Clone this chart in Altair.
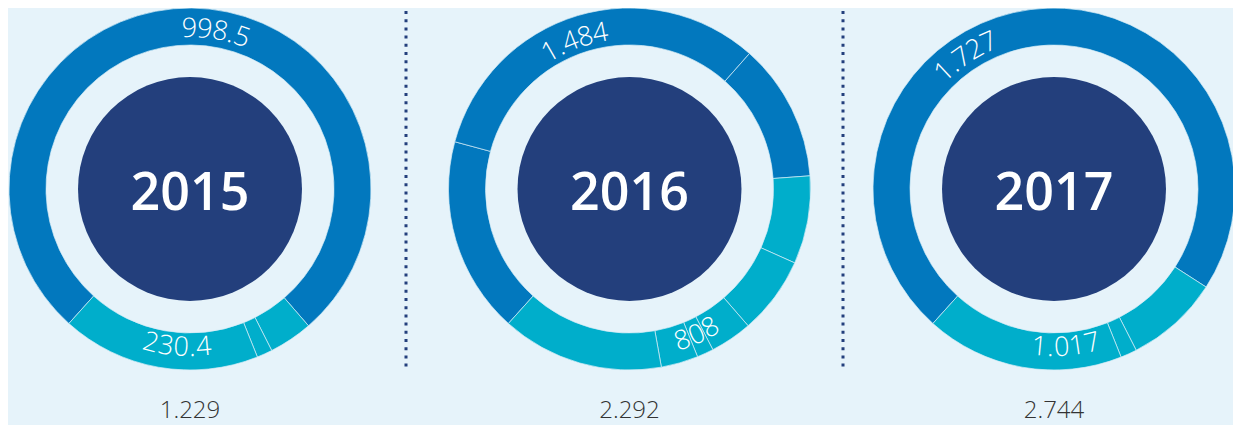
import math
import altair as alt
import pandas as pd

# ---------------- data ----------------
years = ["2015", "2016", "2017"]
totals = ["1.229", "2.292", "2.744"]

# ring segments, clockwise starting at the lower-left boundary
seg_2015 = [946, 48, 17, 218]
kind_2015 = ["main", "other", "other", "other"]
seg_2016 = [402, 741, 282, 180, 159, 86, 34, 76, 332]
kind_2016 = ["main", "main", "main", "other", "other", "other", "other", "other", "other"]
seg_2017 = [1988, 230, 40, 486]
kind_2017 = ["main", "other", "other", "other"]

# labels written along the ring
ring_labels = ["998.5", "230.4", "1.484", "808", "1.727", "1.017"]
ring_label_year = [0, 0, 1, 1, 2, 2]
ring_label_angle = [9.3, 184.7, 339.7, 155.2, 326.5, 175.7]  # degrees clockwise from top
ring_label_radius = [160, 159, 158, 161, 160, 159]

# ---------------- layout / style ----------------
W, H = 1225, 417
centers_x = [182, 621.5, 1046]
center_y = 181
sep_x = [398, 835]
OUTER_R, INNER_R, CORE_R = 181, 144, 112
START = math.radians(222)

BG = "#E6F3FA"
BLUE = "#0278BE"
TEAL = "#00AECB"
NAVY = "#233F7C"
GREY = "#333333"
RING_FS = 27

segs = [seg_2015, seg_2016, seg_2017]
kinds = [kind_2015, kind_2016, kind_2017]

seg_rows = []
for i, (vals, ks) in enumerate(zip(segs, kinds)):
    for j, (v, k) in enumerate(zip(vals, ks)):
        seg_rows.append(dict(year=years[i], cx=centers_x[i], cy=center_y,
                             value=v, kind=k, order=j))
seg_df = pd.DataFrame(seg_rows)

core_df = pd.DataFrame(dict(year=years, total=totals, cx=centers_x,
                            cy=[center_y] * 3))


def char_w(c):
    return 0.26 if c in ".," else 0.572


char_rows = []
for lab, yi, ang, rad in zip(ring_labels, ring_label_year, ring_label_angle, ring_label_radius):
    ws = [char_w(c) * RING_FS for c in lab]
    pos = -sum(ws) / 2
    bottom = 90 < ang < 270
    for c, w in zip(lab, ws):
        off = pos + w / 2
        pos += w
        d = math.degrees(off / rad)
        a = ang - d if bottom else ang + d
        rot = (a - 180) if bottom else a
        char_rows.append(dict(cx=centers_x[yi], cy=center_y, ch=c,
                              ang=a % 360, rad=rad, rot=rot % 360))
char_df = pd.DataFrame(char_rows)

sep_df = pd.DataFrame(dict(sx=sep_x))

X = lambda f: alt.X(f, scale=None, axis=None)
Y = lambda f: alt.Y(f, scale=None, axis=None)

arcs = alt.Chart(seg_df).transform_window(
    cum="sum(value)", groupby=["year"], sort=[alt.SortField("order")]
).transform_joinaggregate(
    tot="sum(value)", groupby=["year"]
).transform_calculate(
    t0="(datum.cum - datum.value) / datum.tot",
    t1="datum.cum / datum.tot",
).mark_arc(outerRadius=OUTER_R, innerRadius=INNER_R, stroke="#D6ECF6",
           strokeWidth=0.7).encode(
    x=X("cx:Q"), y=Y("cy:Q"),
    theta=alt.Theta("t0:Q", scale=alt.Scale(domain=[0, 1],
                                            range=[START, START + 2 * math.pi])),
    theta2="t1:Q",
    color=alt.Color("kind:N", scale=alt.Scale(domain=["main", "other"],
                                              range=[BLUE, TEAL]), legend=None),
)

# Vega symbol size is the area of the bounding square: (2r)^2
core = alt.Chart(core_df).mark_circle(size=(2 * CORE_R) ** 2, opacity=1,
                                      color=NAVY).encode(x=X("cx:Q"), y=Y("cy:Q"))

year_text = alt.Chart(core_df).mark_text(
    font="Open Sans", fontSize=52, fontWeight=600, color="white",
    baseline="alphabetic", align="center", dy=21
).encode(x=X("cx:Q"), y=Y("cy:Q"), text="year:N")

total_text = alt.Chart(core_df).mark_text(
    font="Open Sans", fontSize=24, fontWeight=300, color=GREY,
    baseline="alphabetic", align="center", dy=229
).encode(x=X("cx:Q"), y=Y("cy:Q"), text="total:N")

ring_text = alt.Chart(char_df).mark_text(
    font="Open Sans", fontSize=RING_FS, fontWeight=300, color="white",
    baseline="middle", align="center"
).encode(
    x=X("cx:Q"), y=Y("cy:Q"),
    theta=alt.Theta("ang:Q", scale=alt.Scale(domain=[0, 360], range=[0, 2 * math.pi])),
    radius=alt.Radius("rad:Q", scale=None),
    angle=alt.Angle("rot:Q", scale=None),
    text="ch:N",
)

seps = alt.Chart(sep_df).mark_rule(color=NAVY, strokeWidth=3,
                                   strokeDash=[3, 5.2]).encode(
    x=X("sx:Q"), y=alt.value(3), y2=alt.value(362))

chart = alt.layer(arcs, core, year_text, total_text, ring_text, seps).resolve_scale(
    theta="independent", radius="independent"
).properties(
    width=W, height=H, padding=0, background=BG,
    autosize=alt.AutoSizeParams(type="none"),
).configure_view(stroke=None)

chart.save("out.html", embed_options={"renderer": "svg", "actions": False})
